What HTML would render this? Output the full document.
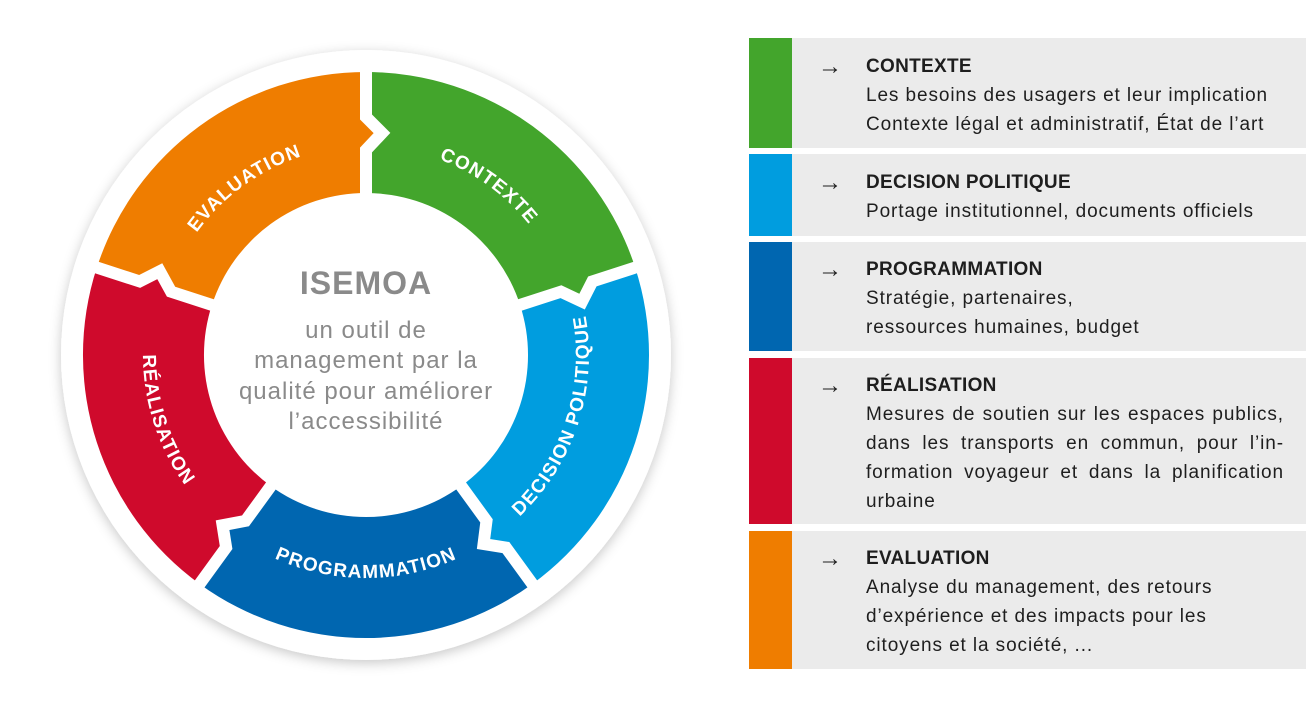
<!DOCTYPE html>
<html><head><meta charset="utf-8"><style>
body{margin:0;width:1306px;height:714px;background:#fff;position:relative;overflow:hidden;font-family:"Liberation Sans",sans-serif}
.bar{position:absolute;left:749px;width:43px}
.bg{position:absolute;left:792px;width:514px;background:#ebebeb}
.t{position:absolute;left:866px;font-size:19px;line-height:29px;color:#1e1e1e;white-space:nowrap;letter-spacing:0.9px}
.t b{font-weight:bold;letter-spacing:0.3px}
.ar{position:absolute;left:818px;font-size:24px;line-height:29px;color:#1e1e1e}
.j{white-space:normal;width:418px;text-align:justify;text-align-last:left}
</style></head><body>
<svg width="740" height="714" style="position:absolute;left:0;top:0">
<defs><filter id="sh" x="-20%" y="-20%" width="140%" height="140%"><feDropShadow dx="0" dy="3" stdDeviation="6" flood-color="#000" flood-opacity="0.22"/></filter>
<path id="w" d="M366,72 A283,283 0 0 1 635.2,267.6 L592.4,281.5 L582.1,301.6 L561,291.7 L520.1,304.9 A162,162 0 0 0 366,193 L366,150 L382,133 L366,117 Z"/>
</defs>
<circle cx="366" cy="355" r="305" fill="#fff" filter="url(#sh)"/>
<use href="#w" fill="#43a52c"/>
<use href="#w" fill="#009ddf" transform="rotate(72 366 355)"/>
<use href="#w" fill="#0066b0" transform="rotate(144 366 355)"/>
<use href="#w" fill="#cf0a2c" transform="rotate(216 366 355)"/>
<use href="#w" fill="#ef7d00" transform="rotate(288 366 355)"/>
<g fill="none" stroke="#fff" stroke-width="12" stroke-linejoin="miter">
<polyline points="366,50 366,117 382,133 366,150 366,210"/>
<polyline points="366,50 366,117 382,133 366,150 366,210" transform="rotate(72 366 355)"/>
<polyline points="366,50 366,117 382,133 366,150 366,210" transform="rotate(144 366 355)"/>
<polyline points="366,50 366,117 382,133 366,150 366,210" transform="rotate(216 366 355)"/>
<polyline points="366,50 366,117 382,133 366,150 366,210" transform="rotate(288 366 355)"/>
</g>
<path id="pc" d="M281,164.1 A209,209 0 0 1 573.8,376.8" fill="none"/>
<path id="pe" d="M158.2,376.8 A209,209 0 0 1 451,164.1" fill="none"/>
<path id="pd" d="M412.4,573.1 A223,223 0 0 0 531.7,205.8" fill="none"/>
<path id="pp" d="M172.9,466.5 A223,223 0 0 0 559.1,466.5" fill="none"/>
<path id="pr" d="M200.3,205.8 A223,223 0 0 0 319.6,573.1" fill="none"/>
<g fill="#fff" font-family="Liberation Sans, sans-serif" font-weight="bold" font-size="19" letter-spacing="1.2" text-anchor="middle">
<text><textPath href="#pc" startOffset="50%">CONTEXTE</textPath></text>
<text><textPath href="#pe" startOffset="50%">EVALUATION</textPath></text>
<text><textPath href="#pd" startOffset="50%">DECISION POLITIQUE</textPath></text>
<text><textPath href="#pp" startOffset="50%">PROGRAMMATION</textPath></text>
<text><textPath href="#pr" startOffset="50%">RÉALISATION</textPath></text>
</g>
<g fill="#8a8a8a" font-family="Liberation Sans, sans-serif" text-anchor="middle">
<text x="366" y="294" font-size="32" font-weight="bold" letter-spacing="1">ISEMOA</text>
<text x="366" y="338" font-size="24" letter-spacing="1">un outil de</text>
<text x="366" y="368" font-size="24" letter-spacing="1">management par la</text>
<text x="366" y="399" font-size="24" letter-spacing="1">qualité pour améliorer</text>
<text x="366" y="429" font-size="24" letter-spacing="1">l’accessibilité</text>
</g>
</svg>

<div class="bar" style="top:38px;height:110px;background:#43a52c"></div><div class="bg" style="top:38px;height:110px"></div>
<div class="bar" style="top:154px;height:82px;background:#009ddf"></div><div class="bg" style="top:154px;height:82px"></div>
<div class="bar" style="top:242px;height:109px;background:#0066b0"></div><div class="bg" style="top:242px;height:109px"></div>
<div class="bar" style="top:358px;height:166px;background:#cf0a2c"></div><div class="bg" style="top:358px;height:166px"></div>
<div class="bar" style="top:531px;height:138px;background:#ef7d00"></div><div class="bg" style="top:531px;height:138px"></div>

<div class="ar" style="top:52px">→</div>
<div class="t" style="top:52px"><b>CONTEXTE</b><br>Les besoins des usagers et leur implication<br>Contexte légal et administratif, État de l’art</div>
<div class="ar" style="top:168px">→</div>
<div class="t" style="top:168px"><b>DECISION POLITIQUE</b><br>Portage institutionnel, documents officiels</div>
<div class="ar" style="top:255px">→</div>
<div class="t" style="top:255px"><b>PROGRAMMATION</b><br>Stratégie, partenaires,<br>ressources humaines, budget</div>
<div class="ar" style="top:371px">→</div>
<div class="t j" style="top:371px"><b>RÉALISATION</b><br>Mesures de soutien sur les espaces publics, dans les transports en commun, pour l’in-formation voyageur et dans la planification urbaine</div>
<div class="ar" style="top:544px">→</div>
<div class="t" style="top:544px"><b>EVALUATION</b><br>Analyse du management, des retours<br>d’expérience et des impacts pour les<br>citoyens et la société, ...</div>
</body></html>
